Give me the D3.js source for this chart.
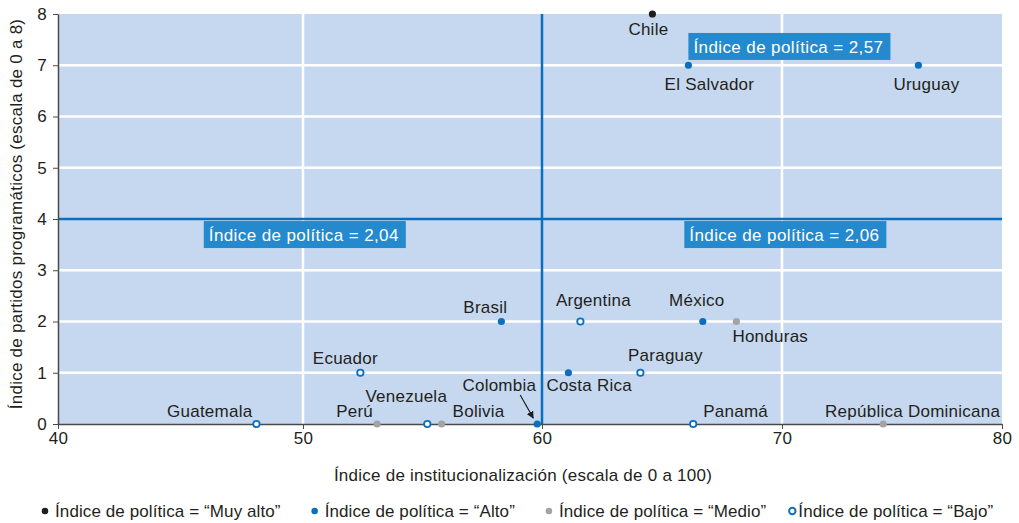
<!DOCTYPE html>
<html>
<head>
<meta charset="utf-8">
<script src="https://cdn.jsdelivr.net/npm/d3@7"></script>
<style>
  body { margin: 0; background: #fff; }
  svg { display: block; font-family: "Liberation Sans", Arial, Helvetica, sans-serif; letter-spacing: 0.25px; }
</style>
</head>
<body>
<svg id="chart"></svg>
<script>
// data
const countries = ['Chile', 'El Salvador', 'Uruguay', 'Brasil', 'Ecuador', 'Guatemala', 'Perú', 'Venezuela',
    'Bolivia', 'Colombia', 'Argentina', 'México', 'Honduras', 'Costa Rica', 'Paraguay', 'Panamá', 'República Dominicana'];
const institutionalization = [64.6, 66.1, 76.2, 58.3, 52.4, 48.1, 53.1, 55.2, 55.8, 59.8, 61.6, 66.7, 68.1, 61.1, 64.1, 66.3, 74.6];
const programmatic = [8, 7, 7, 2, 1, 0, 0, 0, 0, 0, 2, 2, 2, 1, 1, 0, 0];
const policyLevel = ['muyalto', 'alto', 'alto', 'alto', 'bajo', 'bajo', 'medio', 'bajo', 'medio', 'alto', 'bajo', 'alto', 'medio', 'alto', 'bajo', 'bajo', 'medio'];

const levels = ['muyalto', 'alto', 'medio', 'bajo'];
const levelNames = ['Índice de política = “Muy alto”', 'Índice de política = “Alto”', 'Índice de política = “Medio”', 'Índice de política = “Bajo”'];

const xTicks = [40, 50, 60, 70, 80];
const yTicks = [0, 1, 2, 3, 4, 5, 6, 7, 8];
const xSplit = 60;
const ySplit = 4;

// quadrant annotations (top-left corner in data units)
const noteTexts = ['Índice de política = 2,57', 'Índice de política = 2,04', 'Índice de política = 2,06'];
const noteX = [66.1, 45.95, 65.93];
const noteY = [7.63, 3.96, 3.96];

// label placement (anchor, dx, dy) per country
const labelPos = {
    'Chile': ['middle', -4, 21],
    'El Salvador': ['middle', 21, 25],
    'Uruguay': ['middle', 8, 25],
    'Brasil': ['middle', -16, -9],
    'Ecuador': ['middle', -15, -9],
    'Guatemala': ['end', -4, -7],
    'Perú': ['end', -4, -7],
    'Venezuela': ['middle', -21, -22],
    'Bolivia': ['start', 11, -7],
    'Colombia': ['end', -1, -33],
    'Argentina': ['middle', 13, -16],
    'México': ['middle', -6, -16],
    'Honduras': ['start', -4, 20],
    'Costa Rica': ['start', -22, 18],
    'Paraguay': ['middle', 25, -12],
    'Panamá': ['start', 10, -7],
    'República Dominicana': ['end', 117, -7],
};

const width = 1019;
const height = 523;
const textColor = '#231f20';
const blue = '#0b6fc0';
const fontSize = '17px';

const fill = { muyalto: '#1e1e1e', alto: blue, medio: '#a3a3a3', bajo: '#fff' };
const stroke = { muyalto: 'none', alto: 'none', medio: 'none', bajo: blue };

const svg = d3.select('#chart').attr('width', width).attr('height', height);

// the printed axis is not evenly spaced, so use a piecewise scale
const x = d3.scaleLinear().domain(xTicks).range([58, 303, 542, 782, 1002]);
const y = d3.scaleLinear().domain([0, 8]).range([424, 14]);

svg.append('rect')
    .attr('x', x(40))
    .attr('y', y(8))
    .attr('width', x(80) - x(40))
    .attr('height', y(0) - y(8))
    .attr('fill', '#c6d8ef');

// white grid
svg.selectAll('.vgrid')
    .data(xTicks.filter((d) => d !== 40 && d !== 80 && d !== xSplit))
    .enter()
    .append('line')
    .attr('x1', (d) => x(d))
    .attr('x2', (d) => x(d))
    .attr('y1', y(8))
    .attr('y2', y(0))
    .style('stroke', '#fff')
    .style('stroke-width', 2.5);

svg.selectAll('.hgrid')
    .data(yTicks.filter((d) => d !== 0 && d !== 8 && d !== ySplit))
    .enter()
    .append('line')
    .attr('x1', x(40))
    .attr('x2', x(80))
    .attr('y1', (d) => y(d))
    .attr('y2', (d) => y(d))
    .style('stroke', '#fff')
    .style('stroke-width', 2.5);

// blue split lines
svg.append('line')
    .attr('x1', x(xSplit)).attr('x2', x(xSplit))
    .attr('y1', y(8)).attr('y2', y(0))
    .style('stroke', blue).style('stroke-width', 2.5);
svg.append('line')
    .attr('x1', x(40)).attr('x2', x(80))
    .attr('y1', y(ySplit)).attr('y2', y(ySplit))
    .style('stroke', blue).style('stroke-width', 2.5);

// axes
const xAxis = svg.append('g')
    .attr('transform', `translate(0,${y(0)})`)
    .call(d3.axisBottom(x).tickValues(xTicks).tickSize(5).tickPadding(3).tickSizeOuter(0));
const yAxis = svg.append('g')
    .attr('transform', `translate(${x(40)},0)`)
    .call(d3.axisLeft(y).tickValues(yTicks).tickSize(5).tickPadding(6).tickSizeOuter(0));

[xAxis, yAxis].forEach((g) => {
    g.select('.domain').style('stroke', '#4a4a4a').style('stroke-width', 1.5);
    g.selectAll('.tick line').style('stroke', '#4a4a4a');
    g.selectAll('.tick text')
        .style('font-size', fontSize)
        .style('font-family', 'inherit')
        .style('fill', textColor);
});

// annotation boxes
noteTexts.forEach((t, i) => {
    const g = svg.append('g').attr('transform', `translate(${x(noteX[i])},${y(noteY[i])})`);
    const rect = g.append('rect').attr('fill', '#2589cd');
    const txt = g.append('text')
        .attr('x', 5)
        .attr('y', 20)
        .style('font-size', fontSize)
        .style('letter-spacing', '0.4px')
        .style('fill', '#fff')
        .text(t);
    const w = txt.node().getComputedTextLength();
    rect.attr('width', w + 12).attr('height', 27);
});

// points
const rows = countries.map((c, i) => ({
    name: c,
    inst: institutionalization[i],
    prog: programmatic[i],
    level: policyLevel[i],
}));

svg.selectAll('.pt')
    .data(rows)
    .enter()
    .append('circle')
    .attr('cx', (d) => x(d.inst))
    .attr('cy', (d) => y(d.prog))
    .attr('r', (d) => (d.level === 'bajo' ? 3.2 : 3.6))
    .style('fill', (d) => fill[d.level])
    .style('stroke', (d) => stroke[d.level])
    .style('stroke-width', 1.8);

svg.selectAll('.lbl')
    .data(rows)
    .enter()
    .append('text')
    .attr('x', (d) => x(d.inst) + labelPos[d.name][1])
    .attr('y', (d) => y(d.prog) + labelPos[d.name][2])
    .attr('text-anchor', (d) => labelPos[d.name][0])
    .style('font-size', fontSize)
    .style('fill', textColor)
    .text((d) => d.name);

// arrow for Colombia
svg.append('defs')
    .append('marker')
    .attr('id', 'arrow')
    .attr('viewBox', '0 0 10 10')
    .attr('refX', 9)
    .attr('refY', 5)
    .attr('markerWidth', 6)
    .attr('markerHeight', 6)
    .attr('orient', 'auto')
    .append('path')
    .attr('d', 'M0,0L10,5L0,10z')
    .attr('fill', '#1e1e1e');

const col = rows.find((d) => d.name === 'Colombia');
svg.append('line')
    .attr('x1', x(col.inst) - 17)
    .attr('y1', y(col.prog) - 29)
    .attr('x2', x(col.inst) - 4)
    .attr('y2', y(col.prog) - 6)
    .style('stroke', '#1e1e1e')
    .style('stroke-width', 1.2)
    .attr('marker-end', 'url(#arrow)');

// axis titles
svg.append('text')
    .attr('x', 523)
    .attr('y', 481)
    .attr('text-anchor', 'middle')
    .style('font-size', fontSize)
    .style('fill', textColor)
    .text('Índice de institucionalización (escala de 0 a 100)');

svg.append('text')
    .attr('transform', 'translate(22,214) rotate(-90)')
    .attr('text-anchor', 'middle')
    .style('font-size', fontSize)
    .style('fill', textColor)
    .text('Índice de partidos programáticos (escala de 0 a 8)');

// legend
let lx = 45;
levels.forEach((lv, i) => {
    const hollow = lv === 'bajo';
    svg.append('circle')
        .attr('cx', lx)
        .attr('cy', 511)
        .attr('r', hollow ? 3.2 : 3.3)
        .style('fill', fill[lv])
        .style('stroke', stroke[lv])
        .style('stroke-width', 2);
    const tx = lx + (hollow ? 6 : 10);
    const t = svg.append('text')
        .attr('x', tx)
        .attr('y', 517)
        .style('font-size', fontSize)
        .style('letter-spacing', '0.1px')
        .style('fill', textColor)
        .text(levelNames[i]);
    const nextHollow = levels[i + 1] === 'bajo';
    lx = tx + t.node().getComputedTextLength() + (nextHollow ? 26 : 34);
});
</script>
</body>
</html>
